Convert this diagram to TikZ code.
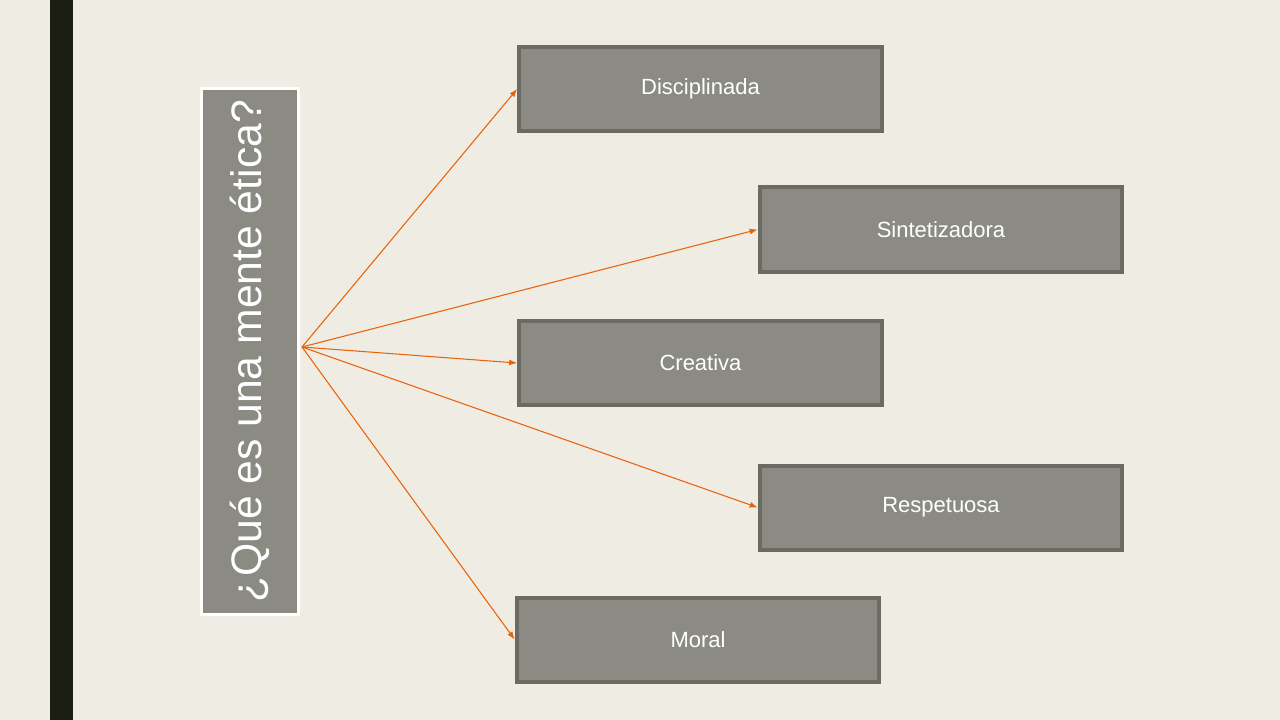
\documentclass[tikz,border=0pt]{standalone}
\usepackage{fontspec}
\setmainfont{Liberation Sans}
\usetikzlibrary{shapes, arrows, arrows.meta, positioning, calc}
\definecolor{paper}{HTML}{EFECE3}
\definecolor{barcol}{HTML}{1B1C14}
\definecolor{boxfill}{HTML}{8B8B84}
\definecolor{boxline}{HTML}{6B6A63}
\definecolor{arrcol}{HTML}{E8640C}
\tikzset{
	mind/.style={rectangle, draw=boxline, fill=boxfill, line width=3pt, inner sep=0pt,
		minimum width=272pt, minimum height=63pt, text=white, font=\fontsize{16.5}{20}\selectfont},
	arr/.style={draw=arrcol, line width=0.8pt, -{Latex[length=6pt,width=4.5pt]}}
}

\begin{document}
\begin{tikzpicture}[x=0.75pt, y=-0.75pt]
		\fill[paper] (0,0) rectangle (1280,720);
		\fill[barcol] (50,0) rectangle (73,720);
		\node[rectangle, rotate=90, fill=boxfill, draw=white, line width=2.25pt, inner sep=0pt,
			minimum width=394.5pt, minimum height=72.75pt, text=white,
			font=\fontsize{32}{38}\selectfont] (q) at (250,351.5) {¿Qué es una mente ética?};
		\coordinate (hub) at (302,347);
		\node[mind] (dis) at (700.5,89) {Disciplinada};
		\node[mind] (sin) at (941,229.5) {Sintetizadora};
		\node[mind] (cre) at (700.5,363) {Creativa};
		\node[mind] (res) at (941,507.5) {Respetuosa};
		\node[mind] (mor) at (698,639.5) {Moral};
		\foreach \to in {dis,sin,cre,res,mor}
			\draw[arr] (hub) -- (\to.west);
	\end{tikzpicture}
\end{document}
